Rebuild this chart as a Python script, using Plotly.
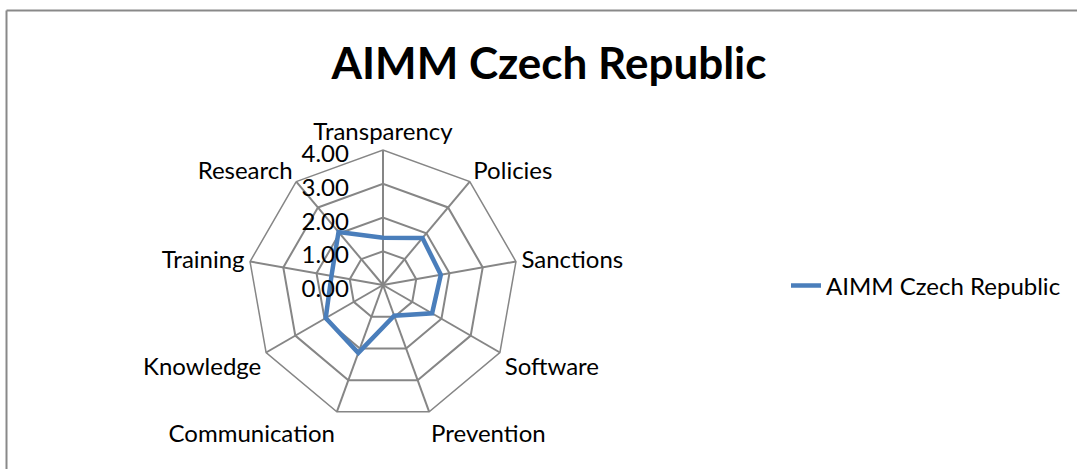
import plotly.graph_objects as go

categories = ["Transparency", "Policies", "Sanctions", "Software", "Prevention",
              "Communication", "Knowledge", "Training", "Research"]
values = [1.40, 1.82, 1.74, 1.68, 0.97, 2.14, 1.96, 1.55, 2.05]
series_name = "AIMM Czech Republic"
tick_vals = [0, 1, 2, 3, 4]
tick_text = ["0.00", "1.00", "2.00", "3.00", "4.00"]

W, H = 1077, 469
FONT = "Lato, 'Open Sans', sans-serif"

fig = go.Figure()
fig.add_trace(go.Scatterpolar(
    r=values + values[:1],
    theta=categories + categories[:1],
    mode="lines",
    name=series_name,
    line=dict(color="#4A7EBB", width=4.5),
    showlegend=True,
))

fig.update_layout(
    width=W, height=H,
    margin=dict(l=0, r=0, t=0, b=0),
    paper_bgcolor="white",
    plot_bgcolor="white",
    font=dict(family=FONT, size=24, color="black"),
    title=dict(text="<b>AIMM Czech Republic</b>", x=549 / W, xanchor="center",
               y=1 - 64 / H, yanchor="middle",
               font=dict(family=FONT, size=44, color="black")),
    polar=dict(
        domain=dict(x=[248 / W, 518 / W], y=[49 / H, 319 / H]),
        bgcolor="white",
        gridshape="linear",
        angularaxis=dict(
            direction="clockwise", rotation=90,
            showline=True, linecolor="#868686", linewidth=1.5,
            gridcolor="#868686", gridwidth=1.5,
            ticks="", tickfont=dict(size=24, family=FONT),
        ),
        radialaxis=dict(
            range=[0, 4], angle=90, side="counterclockwise",
            tickvals=tick_vals, ticktext=tick_text,
            showline=False, gridcolor="#868686", gridwidth=1.5,
            ticks="outside", ticklen=12, tickcolor="rgba(0,0,0,0)",
            tickfont=dict(size=24, family=FONT),
        ),
    ),
    legend=dict(x=786 / W, y=1 - 286 / H, xanchor="left", yanchor="middle",
                font=dict(size=24, family=FONT), bgcolor="rgba(0,0,0,0)"),
    shapes=[
        dict(type="line", xref="paper", yref="paper", x0=6.5 / W, x1=1, y0=1 - 10.5 / H, y1=1 - 10.5 / H,
             line=dict(color="#898989", width=2)),
        dict(type="line", xref="paper", yref="paper", x0=6.5 / W, x1=6.5 / W, y0=0, y1=1 - 10.5 / H,
             line=dict(color="#898989", width=2)),
    ],
)

fig.write_html("out.html")
